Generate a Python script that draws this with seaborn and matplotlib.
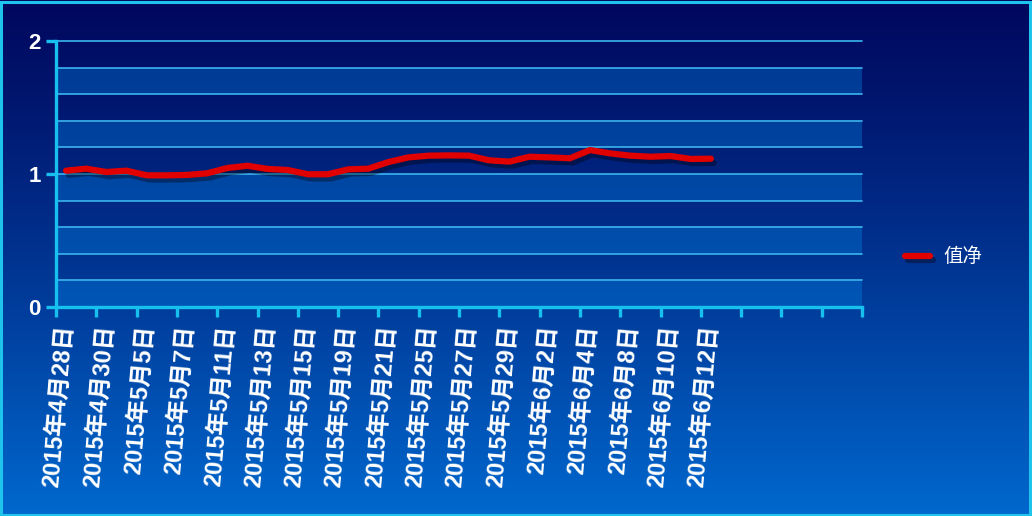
import numpy as np
import pandas as pd
import matplotlib
matplotlib.use("Agg")
import matplotlib.pyplot as plt
import matplotlib.patheffects as pe
from matplotlib.patches import Rectangle
import seaborn as sns

# ---- data ----
dates = ["2015年4月28日", "2015年4月29日", "2015年4月30日", "2015年5月4日", "2015年5月5日",
         "2015年5月6日", "2015年5月7日", "2015年5月8日", "2015年5月11日", "2015年5月12日",
         "2015年5月13日", "2015年5月14日", "2015年5月15日", "2015年5月18日", "2015年5月19日",
         "2015年5月20日", "2015年5月21日", "2015年5月22日", "2015年5月25日", "2015年5月26日",
         "2015年5月27日", "2015年5月28日", "2015年5月29日", "2015年6月1日", "2015年6月2日",
         "2015年6月3日", "2015年6月4日", "2015年6月5日", "2015年6月8日", "2015年6月9日",
         "2015年6月10日", "2015年6月11日", "2015年6月12日"]
values = [1.025, 1.04, 1.015, 1.025, 0.99, 0.99, 0.993, 1.005, 1.045, 1.062,
          1.038, 1.03, 0.998, 0.998, 1.035, 1.04, 1.09, 1.125, 1.138, 1.14,
          1.138, 1.103, 1.093, 1.13, 1.125, 1.118, 1.18, 1.155, 1.138, 1.13,
          1.135, 1.113, 1.115]
series_name = "值净"
n_categories = 40
y_ticks = [0, 1, 2]

df = pd.DataFrame({"pos": np.arange(len(values)), "value": values, "series": series_name})

sns.set_theme(style="white")
plt.rcParams["font.family"] = ["Liberation Sans", "Noto Sans CJK SC", "DejaVu Sans"]

W, H = 1032, 516
fig = plt.figure(figsize=(W / 100, H / 100), dpi=100)

# gradient background
bg = fig.add_axes([0, 0, 1, 1], zorder=-10)
top = np.array([0, 8, 94]) / 255
bot = np.array([0, 104, 206]) / 255
t = np.linspace(0, 1, 256)[:, None] ** 1.15
grad = top[None, None, :] * (1 - t[:, :, None]) + bot[None, None, :] * t[:, :, None]
bg.imshow(np.repeat(grad, 2, axis=1), aspect="auto", extent=[0, 1, 0, 1])
bg.set_axis_off()

cyan = "#18C0F0"
grid_c = "#3CB4EE"

ax = fig.add_axes([56 / W, 1 - 307 / H, (862 - 56) / W, (307 - 41) / H])
ax.set_facecolor("none")

# alternating bands
for k in range(10):
    if k % 2 == 0:
        ax.axhspan(k * 0.2, k * 0.2 + 0.2, color="#0080E0", alpha=0.38, lw=0, zorder=0)
for k in range(11):
    ax.axhline(k * 0.2, color=grid_c, lw=1.2, zorder=1, clip_on=False)

sns.lineplot(data=df, x="pos", y="value", hue="series", palette=["#E00000"],
             linewidth=4.5, ax=ax, zorder=5, legend=True)
shadow = [pe.SimpleLineShadow(offset=(2, -3), shadow_color="black", alpha=0.35), pe.Normal()]
for ln in ax.get_lines():
    if len(ln.get_xdata()) == len(values):
        ln.set_path_effects(shadow)
        ln.set_solid_capstyle("round")

ax.set_xlim(-0.5, n_categories - 0.5)
ax.set_ylim(0, 2)
ax.set_xlabel("")
ax.set_ylabel("")

for s in ["top", "right"]:
    ax.spines[s].set_visible(False)
for s in ["left", "bottom"]:
    ax.spines[s].set_color(cyan)
    ax.spines[s].set_linewidth(2.4)
    ax.spines[s].set_zorder(6)

ax.set_yticks(y_ticks)
ax.set_yticklabels([str(v) for v in y_ticks], color="white", fontsize=16,
                   fontweight="bold", family=["Liberation Sans"])
ax.tick_params(axis="y", which="major", direction="out", length=7, width=2.4,
               color=cyan, pad=4, left=True)

ax.set_xticks(np.arange(-0.5, n_categories, 2))
ax.set_xticklabels([])
ax.tick_params(axis="x", which="major", direction="out", length=7, width=2.4,
               color=cyan, bottom=True)
label_pos = np.arange(0, len(dates), 2)
ax.set_xticks(label_pos, minor=True)
ax.set_xticklabels([dates[i] for i in label_pos], minor=True, rotation=85,
                   rotation_mode="anchor", ha="right", va="center",
                   color="white", fontsize=17, fontweight="bold")
ax.tick_params(axis="x", which="minor", length=0, pad=13)
ax.grid(False)

leg = ax.legend(loc="center left", bbox_to_anchor=(0.877, 0.502), bbox_transform=fig.transFigure,
                frameon=False, fontsize=14, handlelength=1.3, handletextpad=0.65, borderpad=0,
                borderaxespad=0)
for txt in leg.get_texts():
    txt.set_color("white")
    txt.set_family(["Noto Sans CJK SC"])
for h in leg.legend_handles:
    h.set_linewidth(4.5)
    h.set_path_effects(shadow)

fig.patches.append(Rectangle((0.001, 0.002), 0.997, 0.995, transform=fig.transFigure,
                             fill=False, edgecolor="#1EC4EC", linewidth=2.2, zorder=20))

fig.savefig("out.png", dpi=100)
